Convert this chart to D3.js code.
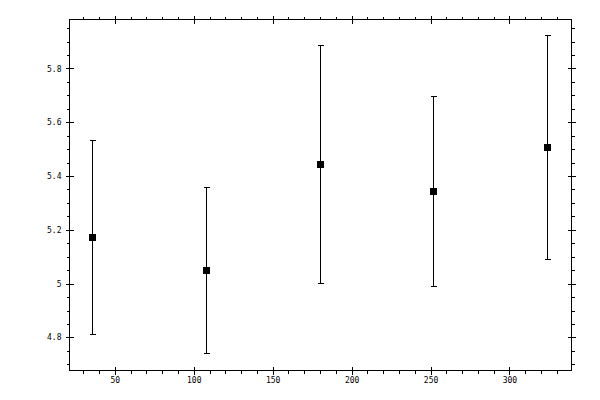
<!DOCTYPE html>
<html>
<head>
<meta charset="utf-8">
<script src="https://cdn.jsdelivr.net/npm/d3@7"></script>
<style>
  body { margin: 0; background: #fff; }
  svg { display: block; }
  .axis text { font-family: "DejaVu Sans Mono", monospace; font-size: 8px; fill: #000; }
  .axis line, .axis path { stroke: #000; shape-rendering: crispEdges; }
</style>
</head>
<body>
<div id="chart"></div>
<script>
// data
var xValues = [36, 108, 180, 252, 324];
var yValues = [5.172, 5.049, 5.443, 5.343, 5.506];
var errValues = [0.36, 0.31, 0.444, 0.353, 0.418];

var xTicks = [50, 100, 150, 200, 250, 300];
var yTicks = [4.8, 5, 5.2, 5.4, 5.6, 5.8];

var svgWidth = 600;
var svgHeight = 400;

var margin = { top: 19, right: 29, bottom: 30, left: 69 };
var width = svgWidth - margin.left - margin.right;
var height = svgHeight - margin.top - margin.bottom;

var svg = d3.select("#chart")
  .append("svg")
  .attr("width", svgWidth)
  .attr("height", svgHeight);

var chartGroup = svg.append("g")
  .attr("transform", `translate(${margin.left + 0.5}, ${margin.top + 0.5})`);

var xScale = d3.scaleLinear().domain([21.3, 339.3]).range([0, width]);
var yScale = d3.scaleLinear().domain([4.677, 5.982]).range([height, 0]);

// minor ticks every 10 on x, every 0.05 on y
var xMinor = d3.range(30, 340, 10).filter(v => v % 50 !== 0);
var yMinor = d3.range(4.70, 5.98, 0.05).map(v => +v.toFixed(2))
  .filter(v => Math.abs(v * 5 - Math.round(v * 5)) > 1e-6);

var fmt = d3.format(".1~f");

// frame
chartGroup.append("rect")
  .attr("x", 0).attr("y", 0)
  .attr("width", width).attr("height", height)
  .attr("fill", "none")
  .attr("stroke", "#000")
  .attr("shape-rendering", "crispEdges");

// builds one side: major ticks cross the frame, minor ticks point out
function drawSide(axisFn, translate, scale, showLabels, sign, vertical) {
  var g = chartGroup.append("g")
    .attr("class", "axis")
    .attr("transform", translate);

  var major = axisFn(scale)
    .tickValues(scale === xScale ? xTicks : yTicks)
    .tickSize(4)
    .tickSizeOuter(0)
    .tickPadding(showLabels ? (vertical ? 4 : 3) : 0)
    .tickFormat(showLabels ? (scale === xScale ? d3.format("d") : fmt) : "");
  g.call(major);
  g.select(".domain").remove();
  // extend major ticks inward so they cross the frame
  g.selectAll(".tick line").attr(vertical ? "x1" : "y1", -sign * 4);

  var minor = axisFn(scale)
    .tickValues(scale === xScale ? xMinor : yMinor)
    .tickSize(3)
    .tickFormat("");
  var m = chartGroup.append("g")
    .attr("class", "axis")
    .attr("transform", translate)
    .call(minor);
  m.select(".domain").remove();
}

drawSide(d3.axisBottom, `translate(0, ${height})`, xScale, true, 1, false);
drawSide(d3.axisTop, "translate(0, 0)", xScale, false, -1, false);
drawSide(d3.axisLeft, "translate(0, 0)", yScale, true, -1, true);
drawSide(d3.axisRight, `translate(${width}, 0)`, yScale, false, 1, true);

var points = xValues.map((x, i) => ({ x: x, y: yValues[i], e: errValues[i] }));

// error bars
var bars = chartGroup.append("g")
  .selectAll("g")
  .data(points)
  .enter()
  .append("g")
  .attr("stroke", "#000")
  .attr("shape-rendering", "crispEdges");

bars.append("line")
  .attr("x1", d => Math.round(xScale(d.x)))
  .attr("x2", d => Math.round(xScale(d.x)))
  .attr("y1", d => Math.round(yScale(d.y + d.e)))
  .attr("y2", d => Math.round(yScale(d.y - d.e)));

bars.append("line")
  .attr("x1", d => Math.round(xScale(d.x)) - 3)
  .attr("x2", d => Math.round(xScale(d.x)) + 3)
  .attr("y1", d => Math.round(yScale(d.y + d.e)))
  .attr("y2", d => Math.round(yScale(d.y + d.e)));

bars.append("line")
  .attr("x1", d => Math.round(xScale(d.x)) - 3)
  .attr("x2", d => Math.round(xScale(d.x)) + 3)
  .attr("y1", d => Math.round(yScale(d.y - d.e)))
  .attr("y2", d => Math.round(yScale(d.y - d.e)));

// square markers
chartGroup.append("g")
  .selectAll("rect")
  .data(points)
  .enter()
  .append("rect")
  .attr("x", d => Math.round(xScale(d.x)) - 3.5)
  .attr("y", d => Math.round(yScale(d.y)) - 3.5)
  .attr("width", 7)
  .attr("height", 7)
  .attr("fill", "#000")
  .attr("shape-rendering", "crispEdges");
</script>
</body>
</html>
